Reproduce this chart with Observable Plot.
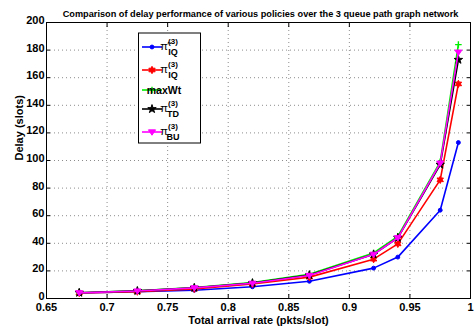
<!DOCTYPE html>
<html><head><meta charset="utf-8">
<script src="https://cdn.jsdelivr.net/npm/d3@7"></script>
<script src="https://cdn.jsdelivr.net/npm/@observablehq/plot@0.6"></script>
<style>body{margin:0;background:#fff;font-family:"Liberation Sans",Arial,sans-serif}</style>
</head><body><div id="chart"></div>
<script>
const rates = [0.677, 0.725, 0.772, 0.820, 0.867, 0.920, 0.940, 0.975, 0.990];
const blueIQ = [4, 5, 6, 8.5, 12.5, 22, 30, 64, 113];
const redIQ = [4, 5, 7, 10.5, 15.5, 28.5, 39.6, 86, 155.5];
const maxWt = [4.2, 5.6, 8, 11.5, 17.5, 33, 45, 99, 184];
const piTD = [4.2, 5.5, 7.8, 11.2, 17, 32, 44, 97, 173];
const piBU = [4.1, 5.4, 7.7, 11, 16.7, 32, 44, 98, 178.5];
const xTicks = [0.65, 0.7, 0.75, 0.8, 0.85, 0.9, 0.95, 1];
const yTicks = [0, 20, 40, 60, 80, 100, 120, 140, 160, 180, 200];
const seriesNames = ["piIQtilde", "piIQ", "maxWt", "piTD", "piBU"];
const seriesValues = [blueIQ, redIQ, maxWt, piTD, piBU];
const colors = ["#0000ff", "#ff0000", "#00ee00", "#000000", "#ff00ff"];

const hexagram = {draw(ctx, size) {
  const r = Math.sqrt(size) * 0.75, ri = r * 0.55;
  for (let i = 0; i < 12; i++) {
    const a = i * Math.PI / 6 - Math.PI / 2, rr = i % 2 ? ri : r;
    i ? ctx.lineTo(rr * Math.cos(a), rr * Math.sin(a)) : ctx.moveTo(rr * Math.cos(a), rr * Math.sin(a));
  }
  ctx.closePath();
}};
const triDown = {draw(ctx, size) {
  const r = Math.sqrt(size) * 0.7;
  ctx.moveTo(-r, -r * 0.6); ctx.lineTo(r, -r * 0.6); ctx.lineTo(0, r * 0.9); ctx.closePath();
}};
const plusSym = {draw(ctx, size) {
  const r = Math.sqrt(size) * 0.7;
  ctx.moveTo(-r, 0); ctx.lineTo(r, 0); ctx.moveTo(0, -r); ctx.lineTo(0, r);
}};
const symbols = [d3.symbolCircle, hexagram, plusSym, d3.symbolStar, triDown];
const sizes = [12, 24, 22, 22, 26];

const rows = [];
seriesNames.forEach((s, i) => rates.forEach((x, j) => rows.push({s, i, x, y: seriesValues[i][j]})));

const font = '"Liberation Sans", Arial, sans-serif';
const marks = [
  Plot.gridX(xTicks.slice(1, -1), {stroke: "#000", strokeOpacity: 0.45, strokeDasharray: "1,3"}),
  Plot.gridY(yTicks.slice(1, -1), {stroke: "#000", strokeOpacity: 0.45, strokeDasharray: "1,3"}),
  Plot.axisX(xTicks, {anchor: "bottom", tickSize: 0, tickPadding: 5, tickFormat: d => String(d), fontWeight: "bold", fontSize: 11, label: null}),
  Plot.axisY(yTicks, {anchor: "left", tickSize: 0, tickPadding: 2, fontWeight: "bold", fontSize: 11, label: null, dy: -2}),
  Plot.axisX(xTicks, {anchor: "bottom", tickSize: 4, text: null, dy: -4, label: null}),
  Plot.axisX(xTicks, {anchor: "top", tickSize: 4, text: null, dy: 4, label: null}),
  Plot.axisY(yTicks, {anchor: "left", tickSize: 4, text: null, dx: 4, label: null}),
  Plot.axisY(yTicks, {anchor: "right", tickSize: 4, text: null, dx: -4, label: null}),
];
seriesNames.forEach((s, i) => {
  const d = rows.filter(r => r.s === s);
  marks.push(Plot.line(d, {x: "x", y: "y", stroke: colors[i], strokeWidth: 1.6}));
  marks.push(Plot.dot(d, {x: "x", y: "y", symbol: () => symbols[i], r: Math.sqrt(sizes[i] / Math.PI),
    fill: i === 2 ? "none" : colors[i], stroke: colors[i], strokeWidth: i === 2 ? 1.4 : 1}));
});
marks.push(Plot.frame({stroke: "#000", strokeWidth: 1}));
marks.push(Plot.text(["Comparison of delay performance of various policies over the 3 queue path graph network"],
  {frameAnchor: "top", dy: -12, dx: 2, fontWeight: "bold", fontSize: 9.2}));
marks.push(Plot.text(["Total arrival rate (pkts/slot)"], {frameAnchor: "bottom", dy: 25, fontWeight: "bold", fontSize: 11}));
marks.push(Plot.text(["Delay (slots)"], {frameAnchor: "left", dx: -27, rotate: -90, fontWeight: "bold", fontSize: 11}));

const chart = Plot.plot({
  width: 475, height: 335,
  marginLeft: 46, marginRight: 5, marginTop: 22, marginBottom: 37,
  style: {fontFamily: font, color: "#000", background: "#fff"},
  x: {domain: [0.65, 1]},
  y: {domain: [0, 200]},
  marks
});
document.getElementById("chart").appendChild(chart);

const svg = d3.select(chart);

// Legend
const lg = svg.append("g").attr("font-family", font).attr("font-weight", "bold");
lg.append("rect").attr("x", 138.5).attr("y", 33).attr("width", 62).attr("height", 110)
  .attr("fill", "#fff").attr("stroke", "#000").attr("stroke-width", 1);
const ys = [47, 70, 90, 109, 132];
seriesNames.forEach((s, i) => {
  const y = ys[i];
  lg.append("line").attr("x1", 142).attr("x2", 162).attr("y1", y).attr("y2", y)
    .attr("stroke", colors[i]).attr("stroke-width", 1.6);
  const sym = d3.symbol(symbols[i], sizes[i])();
  lg.append("path").attr("d", sym).attr("transform", `translate(152,${y})`)
    .attr("fill", i === 2 ? "none" : colors[i]).attr("stroke", colors[i]).attr("stroke-width", i === 2 ? 1.4 : 1);
  if (s === "maxWt") {
    lg.append("text").attr("x", 164).attr("y", y + 4).attr("font-size", 10.5).text("maxWt");
  } else {
    lg.append("text").attr("x", 164).attr("y", y + 3).attr("font-size", 11).attr("font-weight", "normal")
      .text(s === "piIQtilde" ? "\u03c0\u0303" : "\u03c0");
    lg.append("text").attr("x", 173).attr("y", y - 3).attr("font-size", 8).text("(3)");
    const sub = {piIQtilde: "IQ", piIQ: "IQ", piTD: "TD", piBU: "BU"}[s];
    lg.append("text").attr("x", 173).attr("y", y + 8).attr("font-size", 9).text(sub);
  }
});
</script></body></html>
